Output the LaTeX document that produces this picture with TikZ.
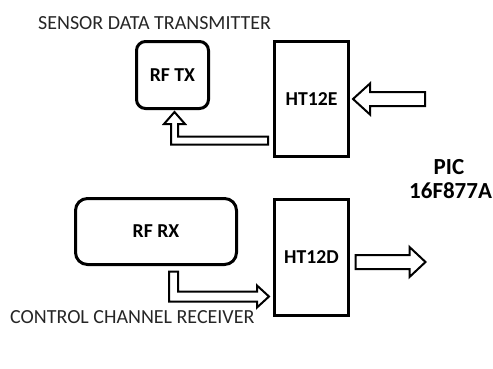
\documentclass[tikz,border=0pt]{standalone}
\usepackage{fontspec}
\setmainfont{Carlito}
\begin{document}
\begin{tikzpicture}[x=1pt,y=-1pt,
  blk/.style={draw,line width=3pt,inner sep=0pt,font=\fontsize{19.7}{22}\selectfont\bfseries},
  hollow/.style={draw,line width=2pt,line join=miter,fill=white},
  caption/.style={anchor=west,inner sep=0pt,text=black!85,font=\fontsize{20}{22}\selectfont}]
\useasboundingbox (0,0) rectangle (493,368);
\node[caption] (txcap) at (38,23) {SENSOR DATA TRANSMITTER};
\node[caption] (rxcap) at (10,317) {CONTROL CHANNEL RECEIVER};
\node[blk,rounded corners=9pt,minimum width=72pt,minimum height=67pt] (rftx) at (172.5,75) {RF TX};
\node[blk,minimum width=74pt,minimum height=115pt] (enc) at (311.5,99) {HT12E};
\node[blk,rounded corners=12pt,minimum width=161pt,minimum height=66pt] (rfrx) at (156,231.5) {RF RX};
\node[blk,minimum width=74pt,minimum height=116pt] (dec) at (311.5,257.5) {HT12D};
\node[font=\fontsize{23}{25}\selectfont\bfseries,inner sep=0pt] (pic) at (449,167.5) {PIC};
\node[font=\fontsize{23}{25}\selectfont\bfseries,inner sep=0pt,anchor=west] (picnum) at (409,190.5) {16F877A};
% PIC to encoder
\draw[hollow,shift={(enc.east)}] (75,-7) -- (20,-7) -- (20,-15.5) -- (3,0) -- (20,15.5) -- (20,7) -- (75,7) -- cycle;
% encoder to RF TX
\draw[hollow,shift={(rftx.south)}] (95.5,26.5) -- (5.5,26.5) -- (5.5,14) -- (12.5,14) -- (2,2) -- (-8.5,14) -- (-1.5,14) -- (-1.5,34.5) -- (95.5,34.5) -- cycle;
% RF RX to decoder
\draw[hollow,shift={(rfrx.south)}] (13,5.5) -- (22,5.5) -- (22,25.5) -- (101,25.5) -- (101,19.5) -- (113,30.5) -- (101,41.5) -- (101,35.5) -- (13,35.5) -- cycle;
% decoder to PIC
\draw[hollow,shift={(dec.east)}] (5.5,-2.5) -- (59.5,-2.5) -- (59.5,-10.5) -- (75.5,4.5) -- (59.5,19.5) -- (59.5,11.5) -- (5.5,11.5) -- cycle;
\end{tikzpicture}
\end{document}
